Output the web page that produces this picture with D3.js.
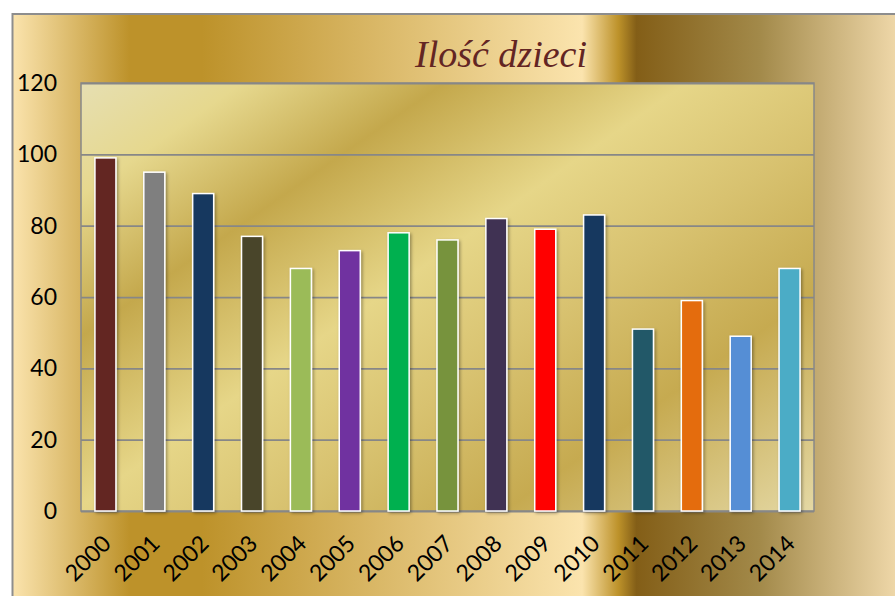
<!DOCTYPE html>
<html>
<head>
<meta charset="utf-8">
<script src="https://cdn.jsdelivr.net/npm/d3@7"></script>
<style>
  body { margin: 0; background: #fff; }
  svg { display: block; }
</style>
</head>
<body>
<div id="chart"></div>
<script>
// data
var years  = ["2000","2001","2002","2003","2004","2005","2006","2007","2008","2009","2010","2011","2012","2013","2014"];
var values = [99, 95, 89, 77, 68, 73, 78, 76, 82, 79, 83, 51, 59, 49, 68];
var barColors = ["#632523","#7f7f7f","#17375e","#4a452a","#9bbb59","#7030a0","#00b050",
                 "#77933c","#403152","#ff0000","#17375e","#215968","#e46c0a","#558ed5","#4bacc6"];
var yTicks = [0, 20, 40, 60, 80, 100, 120];
var title = "Ilość dzieci";

var W = 895, H = 596;
var plot = {left: 81, top: 83, right: 814, bottom: 511};

var svg = d3.select("#chart").append("svg")
    .attr("width", W)
    .attr("height", H);

var defs = svg.append("defs");

// gold background of the chart area
var bgGrad = defs.append("linearGradient")
    .attr("id", "bgGold")
    .attr("gradientUnits", "userSpaceOnUse")
    .attr("x1", 12).attr("y1", 0).attr("x2", 917).attr("y2", 0);
[[0, "#fbe4ae"], [0.13, "#bd922a"], [0.21, "#bd922a"], [0.63, "#fbe4ae"],
 [0.67, "#bd922a"], [0.69, "#835e17"], [0.825, "#a28949"], [1, "#fae3b7"]]
  .forEach(function(s) {
    bgGrad.append("stop").attr("offset", s[0]).attr("stop-color", s[1]);
  });

// diagonal gold of the plot area
var plotGrad = defs.append("linearGradient")
    .attr("id", "plotGold")
    .attr("gradientUnits", "userSpaceOnUse")
    .attr("x1", plot.left).attr("y1", plot.top)
    .attr("x2", plot.left + 0.572 * 770).attr("y2", plot.top + 0.82 * 770);
[[0, "#e6dfb2"], [0.12, "#e6d88e"], [0.27, "#c4a84c"], [0.45, "#e6d688"],
 [0.6, "#d8c270"], [0.77, "#c6aa50"], [1, "#e4d8a4"]]
  .forEach(function(s) {
    plotGrad.append("stop").attr("offset", s[0]).attr("stop-color", s[1]);
  });

var shadow = defs.append("filter").attr("id", "barShadow")
    .attr("x", "-50%").attr("y", "-10%").attr("width", "200%").attr("height", "120%");
shadow.append("feDropShadow")
    .attr("dx", 1.5).attr("dy", 1.5)
    .attr("stdDeviation", 1.5)
    .attr("flood-color", "#000")
    .attr("flood-opacity", 0.35);

// chart area
svg.append("rect")
    .attr("x", 12.5).attr("y", 14)
    .attr("width", 1000).attr("height", 700)
    .style("fill", "url(#bgGold)")
    .style("stroke", "#8d8d8d")
    .style("stroke-width", 2);

// scales
var x = d3.scaleBand()
    .domain(years)
    .range([plot.left, plot.right])
    .paddingInner(0.57)
    .paddingOuter(0.285);

var y = d3.scaleLinear()
    .domain([0, 120])
    .range([plot.bottom, plot.top]);

// plot area
svg.append("rect")
    .attr("x", plot.left).attr("y", plot.top)
    .attr("width", plot.right - plot.left)
    .attr("height", plot.bottom - plot.top)
    .style("fill", "url(#plotGold)")
    .style("stroke", "#888")
    .style("stroke-width", 1.5);

// gridlines
svg.append("g")
    .attr("class", "grid")
    .attr("transform", "translate(" + plot.left + ",0)")
    .call(d3.axisLeft(y)
        .tickValues(yTicks)
        .tickSize(-(plot.right - plot.left))
        .tickFormat(""))
    .call(function(g) {
      g.select(".domain").remove();
      g.selectAll("line").style("stroke", "#878787").style("stroke-width", 1.75);
    });

// bars
svg.append("g").selectAll("rect")
    .data(years)
  .enter().append("rect")
    .attr("x", function(d) { return x(d); })
    .attr("y", function(d, i) { return y(values[i]); })
    .attr("width", x.bandwidth())
    .attr("height", function(d, i) { return y(0) - y(values[i]); })
    .style("fill", function(d, i) { return barColors[i]; })
    .style("stroke", "#fff")
    .style("stroke-width", 1.5)
    .attr("filter", "url(#barShadow)");

// y axis labels
svg.append("g")
    .attr("transform", "translate(" + (plot.left - 24) + ",0)")
    .call(d3.axisLeft(y).tickValues(yTicks).tickSize(0).tickPadding(0))
    .call(function(g) {
      g.select(".domain").remove();
      g.selectAll("text")
        .style("font-family", "Lato, 'Open Sans', sans-serif")
        .style("font-size", "23px")
        .style("fill", "#000");
    });

// x axis labels
svg.append("g")
    .attr("transform", "translate(0," + plot.bottom + ")")
    .call(d3.axisBottom(x).tickSize(0).tickPadding(0))
    .call(function(g) {
      g.select(".domain").remove();
      g.selectAll("text")
        .attr("transform", "translate(7,34) rotate(-45)")
        .attr("dy", 0)
        .attr("y", 0)
        .style("text-anchor", "end")
        .style("font-family", "Lato, 'Open Sans', sans-serif")
        .style("font-size", "23px")
        .style("fill", "#000");
    });

// title
svg.append("text")
    .attr("x", 501)
    .attr("y", 67)
    .style("text-anchor", "middle")
    .style("font-family", "'Liberation Serif', serif")
    .style("font-style", "italic")
    .style("font-size", "38px")
    .style("fill", "#632523")
    .text(title);
</script>
</body>
</html>
